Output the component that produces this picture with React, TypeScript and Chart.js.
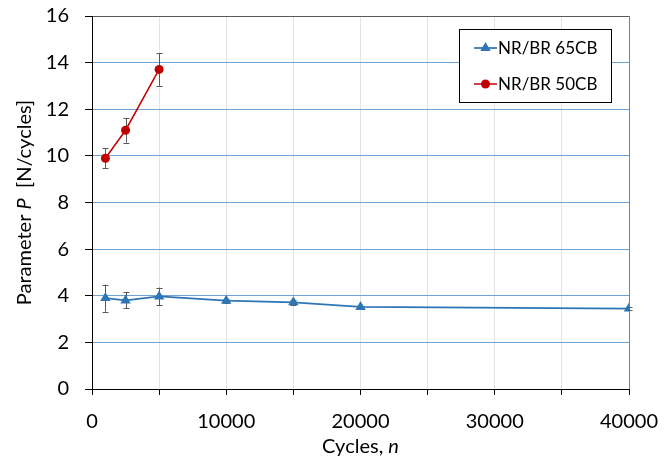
import React, { useEffect, useRef } from "react";
import { Chart, registerables } from "chart.js";

Chart.register(...registerables);

const cycles65 = [1000, 2500, 5000, 10000, 15000, 20000, 40000];
const p65 = [3.9, 3.8, 3.97, 3.79, 3.72, 3.52, 3.45];
const err65 = [0.58, 0.34, 0.38, 0.08, 0.1, 0.05, 0.05];

const cycles50 = [1000, 2500, 5000];
const p50 = [9.9, 11.1, 13.71];
const err50 = [0.44, 0.53, 0.7];

const seriesNames = ["NR/BR 65CB", "NR/BR 50CB"];
const errorSets = [err65, err50];

const BLUE = "#2e75b6";
const RED = "#c00000";
const FONT = "Lato";

const errorBarPlugin = {
  id: "errorBars",
  beforeDatasetsDraw(chart: any) {
    const ctx = chart.ctx;
    const xs = chart.scales.x;
    const ys = chart.scales.y;
    ctx.save();
    ctx.strokeStyle = "#595959";
    ctx.lineWidth = 1;
    chart.data.datasets.forEach((ds: any, i: number) => {
      const errs = errorSets[i];
      ds.data.forEach((pt: any, j: number) => {
        const e = errs[j];
        const x = Math.round(xs.getPixelForValue(pt.x)) + 0.5;
        const yt = ys.getPixelForValue(pt.y + e);
        const yb = ys.getPixelForValue(pt.y - e);
        ctx.beginPath();
        ctx.moveTo(x, yt);
        ctx.lineTo(x, yb);
        ctx.moveTo(x - 3, Math.round(yt) + 0.5);
        ctx.lineTo(x + 3, Math.round(yt) + 0.5);
        ctx.moveTo(x - 3, Math.round(yb) + 0.5);
        ctx.lineTo(x + 3, Math.round(yb) + 0.5);
        ctx.stroke();
      });
    });
    ctx.restore();
  },
};

const decorPlugin = {
  id: "decor",
  afterDraw(chart: any) {
    const ctx = chart.ctx;
    const area = chart.chartArea;
    ctx.save();
    ctx.fillStyle = "#000";
    ctx.textBaseline = "middle";
    const yParts: [string, boolean][] = [
      ["Parameter ", false],
      ["P", true],
      ["  [N/cycles]", false],
    ];
    const setF = (it: boolean) => {
      ctx.font = (it ? "italic " : "") + "20px " + FONT;
    };
    let total = 0;
    yParts.forEach(([t, it]) => {
      setF(it);
      total += ctx.measureText(t).width;
    });
    ctx.save();
    ctx.translate(25, (area.top + area.bottom) / 2);
    ctx.rotate(-Math.PI / 2);
    ctx.textAlign = "left";
    let cx = -total / 2;
    yParts.forEach(([t, it]) => {
      setF(it);
      ctx.fillText(t, cx, 0);
      cx += ctx.measureText(t).width;
    });
    ctx.restore();
    const xParts: [string, boolean][] = [
      ["Cycles, ", false],
      ["n", true],
    ];
    total = 0;
    xParts.forEach(([t, it]) => {
      setF(it);
      total += ctx.measureText(t).width;
    });
    ctx.textAlign = "left";
    cx = (area.left + area.right) / 2 - total / 2;
    xParts.forEach(([t, it]) => {
      setF(it);
      ctx.fillText(t, cx, 447);
      cx += ctx.measureText(t).width;
    });
    const bx = 459.5, by = 29.5, bw = 152, bh = 73;
    ctx.fillStyle = "#fff";
    ctx.fillRect(bx, by, bw, bh);
    ctx.strokeStyle = "#000";
    ctx.lineWidth = 1;
    ctx.strokeRect(bx, by, bw, bh);
    const rows = [48, 84];
    chart.data.datasets.forEach((ds: any, i: number) => {
      const y = rows[i];
      ctx.strokeStyle = ds.borderColor;
      ctx.lineWidth = ds.borderWidth;
      ctx.beginPath();
      ctx.moveTo(474, y);
      ctx.lineTo(497, y);
      ctx.stroke();
      ctx.fillStyle = ds.pointBackgroundColor;
      ctx.beginPath();
      if (ds.pointStyle === "triangle") {
        const r = ds.pointRadius;
        ctx.moveTo(485.5, y - r);
        ctx.lineTo(485.5 + r * Math.cos(Math.PI / 6), y + r / 2);
        ctx.lineTo(485.5 - r * Math.cos(Math.PI / 6), y + r / 2);
        ctx.closePath();
      } else {
        ctx.arc(485.5, y, ds.pointRadius, 0, Math.PI * 2);
      }
      ctx.fill();
      ctx.fillStyle = "#000";
      ctx.font = "17px " + FONT;
      ctx.textAlign = "left";
      ctx.fillText(seriesNames[i], 498, y + 1);
    });
    ctx.restore();
  },
};

export default function App() {
  const ref = useRef<HTMLCanvasElement | null>(null);
  useEffect(() => {
    if (!ref.current) return;
    const chart = new Chart(ref.current, {
      type: "line",
      data: {
        datasets: [
          {
            label: seriesNames[0],
            data: cycles65.map((x, i) => ({ x, y: p65[i] })),
            borderColor: BLUE,
            backgroundColor: BLUE,
            pointBackgroundColor: BLUE,
            pointBorderColor: BLUE,
            pointStyle: "triangle",
            pointRadius: 6,
            pointBorderWidth: 0,
            borderWidth: 1.75,
            tension: 0,
          },
          {
            label: seriesNames[1],
            data: cycles50.map((x, i) => ({ x, y: p50[i] })),
            borderColor: RED,
            backgroundColor: RED,
            pointBackgroundColor: RED,
            pointBorderColor: RED,
            pointStyle: "circle",
            pointRadius: 4.5,
            pointBorderWidth: 0,
            borderWidth: 1.5,
            tension: 0,
          },
        ] as any,
      },
      options: {
        animation: false,
        responsive: false,
        layout: { padding: { left: 0, top: 16, right: 40, bottom: 0 } },
        plugins: { legend: { display: false }, tooltip: { enabled: false } },
        scales: {
          x: {
            type: "linear",
            min: 0,
            max: 40000,
            afterFit: (s: any) => {
              s.height = 77;
              s.paddingLeft = 0;
              s.paddingRight = 0;
            },
            ticks: {
              stepSize: 5000,
              autoSkip: false,
              maxRotation: 0,
              padding: 15,
              color: "#000",
              font: { family: FONT, size: 20 },
              callback: (v: any) => (Number(v) % 10000 === 0 ? String(v) : ""),
            },
            grid: {
              color: (c: any) =>
                c.tick && c.tick.value === 40000 ? "#7f7f7f" : c.tick && c.tick.value === 0 ? "rgba(0,0,0,0)" : "#e3e3e3",
              tickColor: "#000",
              tickLength: 6,
              lineWidth: 1,
            },
            border: { color: "#000", width: 1 },
          },
          y: {
            min: 0,
            max: 16,
            afterFit: (s: any) => {
              s.width = 92;
              s.paddingTop = 0;
              s.paddingBottom = 0;
            },
            ticks: {
              stepSize: 2,
              padding: 16,
              color: "#000",
              font: { family: FONT, size: 20 },
            },
            grid: {
              color: (c: any) =>
                c.tick && c.tick.value === 16 ? "#595959" : c.tick && c.tick.value === 0 ? "rgba(0,0,0,0)" : "#6fa3d8",
              tickColor: "#000",
              tickLength: 7,
              lineWidth: 1,
            },
            border: { color: "#000", width: 1 },
          },
        },
      } as any,
      plugins: [errorBarPlugin, decorPlugin],
    });
    return () => chart.destroy();
  }, []);
  return (
    <div style={{ position: "absolute", left: 0, top: 0, width: 669, height: 466, background: "#fff" }}>
      <canvas ref={ref} width={669} height={466} style={{ display: "block" }} />
    </div>
  );
}
